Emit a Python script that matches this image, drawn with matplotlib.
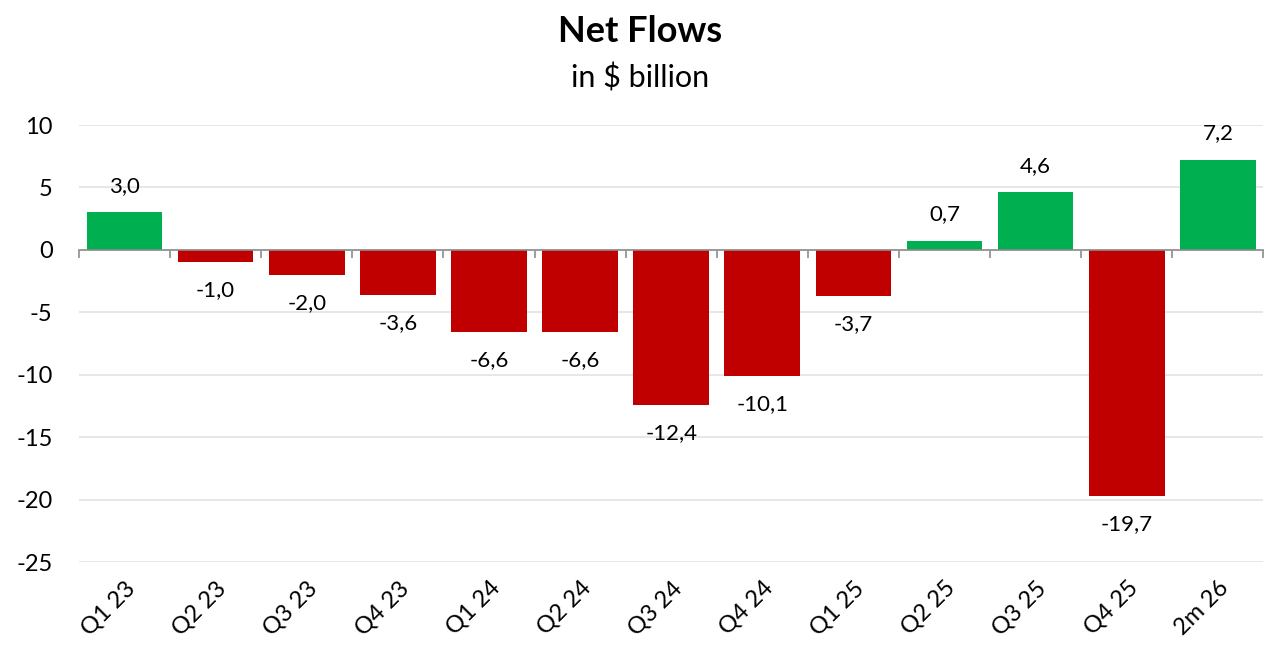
import numpy as np
from matplotlib import pyplot as plt

quarters = ['Q1 23', 'Q2 23', 'Q3 23', 'Q4 23', 'Q1 24', 'Q2 24', 'Q3 24',
            'Q4 24', 'Q1 25', 'Q2 25', 'Q3 25', 'Q4 25', '2m 26']
flows = [3.0, -1.0, -2.0, -3.6, -6.6, -6.6, -12.4, -10.1, -3.7, 0.7, 4.6, -19.7, 7.2]

plt.rcParams['font.family'] = ['Lato', 'DejaVu Sans']
plt.rcParams['axes.unicode_minus'] = False

green = '#00B050'
red = '#C00000'

fig = plt.figure(figsize=(12.8, 6.64), dpi=100)
ax = fig.add_axes([0.0617, 0.1536, 0.9253, 0.6581])

x = np.arange(len(quarters))
colors = [green if v >= 0 else red for v in flows]
bars = ax.bar(x, flows, width=0.83, color=colors, zorder=3)

for xi, v in zip(x, flows):
    lbl = f'{v:.1f}'.replace('.', ',')
    if v >= 0:
        ax.annotate(lbl, (xi, v), xytext=(0, 12), textcoords='offset points',
                    ha='center', va='bottom', fontsize=16)
    else:
        ax.annotate(lbl, (xi, v), xytext=(0, -13), textcoords='offset points',
                    ha='center', va='top', fontsize=16)

ax.set_xlim(-0.5, len(quarters) - 0.5)
ax.set_ylim(-25, 10)
ax.set_yticks(np.arange(-25, 11, 5))
ax.tick_params(axis='y', length=0, pad=19, labelsize=17)
ax.grid(axis='y', color='#e3e3e3', lw=1.2, zorder=0)

for s in ['top', 'right', 'left']:
    ax.spines[s].set_visible(False)
ax.spines['bottom'].set_position(('data', 0))
ax.spines['bottom'].set_color('#8c8c8c')
ax.spines['bottom'].set_linewidth(1.2)
ax.spines['bottom'].set_zorder(4)
ax.set_xticks(np.arange(-0.5, len(quarters), 1.0))
ax.set_xticklabels([])
ax.tick_params(axis='x', length=6, width=1.2, color='#8c8c8c')

sec = ax.secondary_xaxis(0)
sec.spines['bottom'].set_visible(False)
sec.set_xticks(x)
sec.set_xticklabels(quarters, rotation=45, ha='right', rotation_mode='anchor', fontsize=17)
sec.tick_params(length=0, pad=11)

fig.text(0.5, 0.952, 'Net Flows', ha='center', va='center', fontsize=26, fontweight='bold')
fig.text(0.5, 0.882, 'in $ billion', ha='center', va='center', fontsize=22)

plt.savefig('out.png', dpi=100)
